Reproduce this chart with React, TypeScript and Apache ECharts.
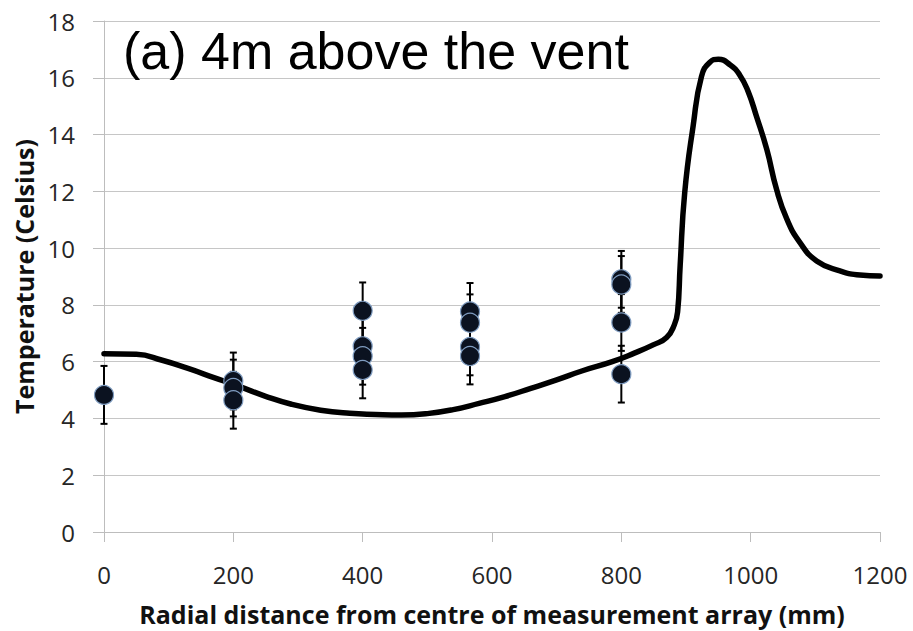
import React, { useEffect, useRef } from "react";
import * as echarts from "echarts";

// Model curve (radial distance mm, temperature °C)
const curveX = [0, 50, 90, 130, 170, 210, 250, 290, 335, 380, 420, 460, 500, 540, 580, 620, 660, 700, 740, 786, 820, 850, 870, 882, 887, 891, 898, 911, 924, 937, 950, 968, 983, 996, 1009, 1025, 1040, 1056, 1076, 1102, 1138, 1169, 1200];
const curveY = [6.28, 6.26, 6.05, 5.76, 5.44, 5.12, 4.78, 4.5, 4.29, 4.18, 4.14, 4.12, 4.17, 4.31, 4.53, 4.77, 5.06, 5.36, 5.68, 6.0, 6.3, 6.6, 6.85, 7.3, 7.75, 9.4, 11.95, 14.3, 16.05, 16.55, 16.65, 16.46, 16.1, 15.52, 14.64, 13.47, 12.07, 11.02, 10.2, 9.55, 9.2, 9.05, 9.02];

// Measurements
const obsX = [0, 200, 200, 200, 400, 400, 400, 400, 566, 566, 566, 566, 800, 800, 800, 800];
const obsY = [4.83, 5.32, 5.07, 4.64, 7.79, 6.54, 6.19, 5.71, 7.77, 7.37, 6.52, 6.2, 8.9, 8.72, 7.38, 5.56];
const obsErr = [1.02, 1.0, 1.0, 1.0, 1.0, 1.0, 1.0, 1.0, 1.0, 1.0, 1.0, 1.0, 1.0, 1.0, 1.0, 1.0];

const titleText = "(a) 4m above the vent";
const xName = "Radial distance from centre of measurement array (mm)";
const yName = "Temperature (Celsius)";

const labelFont = "'Open Sans', 'Noto Sans', sans-serif";

export default function App() {
  const ref = useRef<HTMLDivElement>(null);
  useEffect(() => {
    document.body.style.margin = "0";
    const chart = echarts.init(ref.current!, null, { renderer: "svg" });
    const curve = curveX.map((x, i) => [x, curveY[i]]);
    const pts = obsX.map((x, i) => [x, obsY[i]]);
    const errs = obsX.map((x, i) => [x, obsY[i] - obsErr[i], obsY[i] + obsErr[i]]);
    chart.setOption({
      animation: false,
      backgroundColor: "#ffffff",
      title: {
        text: titleText,
        left: 123,
        top: 25,
        padding: 0,
        textStyle: {
          fontFamily: "'Liberation Sans', Arial, sans-serif",
          fontSize: 52,
          fontWeight: "normal",
          color: "#000",
        },
      },
      grid: { left: 104, right: 33, top: 21, bottom: 97 },
      xAxis: {
        type: "value",
        min: 0,
        max: 1200,
        interval: 200,
        name: xName,
        nameLocation: "middle",
        nameGap: 69,
        nameTextStyle: { fontFamily: labelFont, fontSize: 25, fontWeight: "bold", color: "#111" },
        axisLine: { show: true, lineStyle: { color: "#bdbdbd", width: 1 } },
        axisTick: { show: true, length: 10, lineStyle: { color: "#bdbdbd" } },
        axisLabel: {
          margin: 30,
          fontFamily: labelFont,
          fontSize: 24,
          color: "#262626",
          formatter: (v: number) => String(v),
        },
        splitLine: { show: false },
      },
      yAxis: {
        type: "value",
        min: 0,
        max: 18,
        interval: 2,
        name: yName,
        nameLocation: "middle",
        nameGap: 64,
        nameTextStyle: { fontFamily: labelFont, fontSize: 25, fontWeight: "bold", color: "#111" },
        axisLine: { show: true, lineStyle: { color: "#bdbdbd", width: 1 } },
        axisTick: { show: true, length: 11, lineStyle: { color: "#bdbdbd" } },
        axisLabel: {
          margin: 29,
          fontFamily: labelFont,
          fontSize: 24,
          color: "#262626",
          formatter: (v: number) => String(v),
        },
        splitLine: { show: true, lineStyle: { color: "#c6c6c6", width: 1 } },
      },
      series: [
        {
          type: "line",
          data: curve,
          smooth: 0.5,
          showSymbol: false,
          symbol: "none",
          lineStyle: { color: "#000", width: 5.5, cap: "round", join: "round" },
          z: 2,
        },
        {
          type: "custom",
          data: errs,
          z: 3,
          renderItem: (params: any, api: any) => {
            const x = api.value(0);
            const lo = api.coord([x, api.value(1)]);
            const hi = api.coord([x, api.value(2)]);
            const cw = 3.5;
            const st = { stroke: "#000", lineWidth: 2 };
            return {
              type: "group",
              children: [
                { type: "line", shape: { x1: lo[0], y1: lo[1], x2: hi[0], y2: hi[1] }, style: st },
                { type: "line", shape: { x1: lo[0] - cw, y1: lo[1], x2: lo[0] + cw, y2: lo[1] }, style: st },
                { type: "line", shape: { x1: hi[0] - cw, y1: hi[1], x2: hi[0] + cw, y2: hi[1] }, style: st },
              ],
            };
          },
        },
        {
          type: "scatter",
          data: pts,
          symbol: "circle",
          symbolSize: 19,
          z: 4,
          itemStyle: { color: "#0b1220", borderColor: "#7f9cc0", borderWidth: 1.2, opacity: 1 },
        },
      ],
    });
    return () => chart.dispose();
  }, []);
  return <div ref={ref} style={{ position: "fixed", left: 0, top: 0, width: 913, height: 631 }} />;
}
